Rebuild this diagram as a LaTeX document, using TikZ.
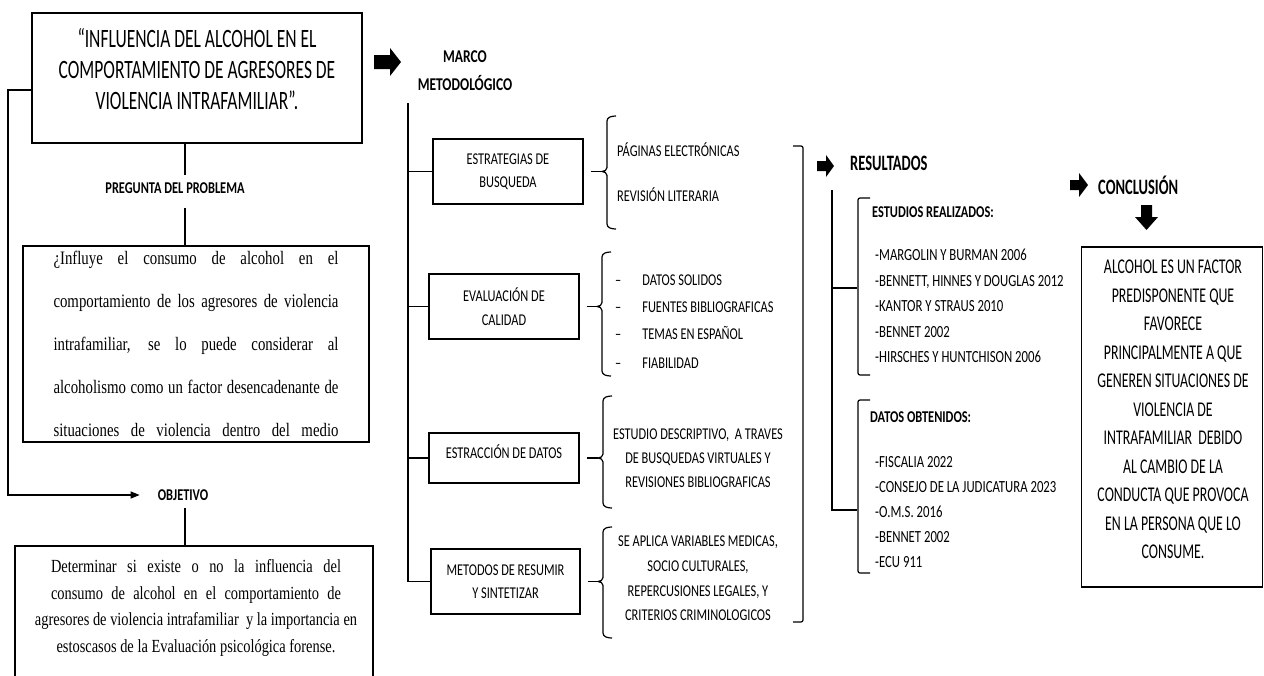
\documentclass[tikz,border=0pt]{standalone}
\usepackage{fontspec}
\setmainfont{Liberation Serif}
\newfontfamily\calfont[FakeStretch=0.75]{Carlito}
\newfontfamily\tallfont[FakeStretch=0.66]{Carlito}
\newfontfamily\serfont[FakeStretch=0.78]{Liberation Serif}
\usetikzlibrary{arrows.meta}
\newcommand\fs[2]{\fontsize{#1}{#2}\selectfont}
\newcommand\lbr[4]{\draw[ln] (#1+9,#2) to[out=180,in=90] (#1,#2+5) -- (#1,#3-4) to[out=-90,in=0] (#1-5,#3) to[out=0,in=90] (#1,#3+4) -- (#1,#4-5) to[out=-90,in=180] (#1+9,#4);}
\tikzset{
  ln/.style={line width=1.2pt},
  boxs/.style={draw, line width=1.4pt, inner sep=0pt},
  captxt/.style={font=\calfont\fs{16.5}{23.5}, align=center, inner sep=0pt},
  itm/.style={font=\calfont\fs{16.5}{20}, anchor=west, inner sep=0pt},
  ritm/.style={font=\calfont\fs{17}{25.5}, anchor=west, align=left, inner sep=0pt},
  head/.style={font=\calfont\bfseries\fs{16.5}{20}, inner sep=0pt},
  bighead/.style={font=\tallfont\bfseries\fs{22}{24}, inner sep=0pt, anchor=west},
}
\begin{document}
\begin{tikzpicture}[x=1pt,y=-1pt]
\useasboundingbox (0,0) rectangle (1264,675);
\clip (0,0) rectangle (1264,675);
\fill[white] (0,0) rectangle (1264,675);

% ---------- left column ----------
\node[boxs, minimum width=330pt, minimum height=130pt] (title) at (197,78) {};
\node[font=\tallfont\fs{26.5}{31}, align=center, inner sep=0pt] (titletxt) at (197,69)
  {“INFLUENCIA DEL ALCOHOL EN EL\\COMPORTAMIENTO DE AGRESORES DE\\VIOLENCIA INTRAFAMILIAR”.};
\coordinate (vx) at (185,0);
\node[head] (preg) at (175,188) {PREGUNTA DEL PROBLEMA};
\node[boxs, minimum width=346pt, minimum height=196pt] (quest) at (196,344)
  {\parbox{285pt}{\serfont\fs{19}{43}\parindent=0pt\parfillskip=0pt
   ¿Influye el consumo de alcohol en el\linebreak
   comportamiento de los agresores de violencia\linebreak
   intrafamiliar, se lo puede considerar al\linebreak
   alcoholismo como un factor desencadenante de\linebreak
   situaciones de violencia dentro del medio\par}};
\draw[ln, shorten >=7pt] (title.south -| vx) -- (preg.north -| vx);
\draw[ln, shorten <=14pt] (preg.south -| vx) -- (quest.north -| vx);

\node[head] (obj) at (183,495) {OBJETIVO};
\node[boxs, minimum width=358pt, minimum height=160pt] (objbox) at (194,626) {};
\node[font=\serfont\fs{18.5}{26.5}, align=center, inner sep=0pt] (objtxt) at (196,608)
  {\makebox[290pt][s]{Determinar si  existe  o  no  la  influencia  del}\\
   \makebox[290pt][s]{consumo  de  alcohol  en  el comportamiento de}\\
   agresores de violencia intrafamiliar \ y la importancia en\\
   estoscasos de la Evaluación psicológica forense.};
\draw[ln, shorten <=7pt] (obj.south -| vx) -- (objbox.north -| vx);
\coordinate (lc) at (8,90);
\draw[ln, -{Triangle[length=9pt,width=7pt]}, shorten >=18pt] (title.west |- lc) -- (lc) |- (obj.west);

% ---------- methodology ----------
\fill (374,55) -- (390,55) -- (390,48) -- (401,62) -- (390,76) -- (390,69) -- (374,69) -- cycle;
\node[font=\calfont\bfseries\fs{18}{28}, align=center, inner sep=0pt] (marco) at (465,71) {MARCO\\METODOLÓGICO};

\node[boxs, captxt, minimum width=150pt, minimum height=65pt] (s1) at (508,171.5) {ESTRATEGIAS DE\\BUSQUEDA};
\node[boxs, captxt, minimum width=150pt, minimum height=65pt] (s2) at (504,306.5) {EVALUACIÓN DE\\CALIDAD};
\node[boxs, captxt, minimum width=150pt, minimum height=50pt, text depth=12pt] (s3) at (504,458) {ESTRACCIÓN DE DATOS};
\node[boxs, captxt, minimum width=149pt, minimum height=65pt] (s4) at (505.5,581.5) {METODOS DE RESUMIR\\Y SINTETIZAR};

\coordinate (mtop) at (408,103);
\draw[ln] (mtop) |- (s4.west);
\foreach \s in {s1,s2,s3} \draw[ln] (mtop |- \s.west) -- (\s.west);

% braces
\lbr{607}{116}{171.5}{229}
\lbr{602}{252}{306.5}{376}
\lbr{603}{396}{458}{508}
\lbr{603}{527}{581.5}{638}
\coordinate (b1) at (602,171.5);
\coordinate (b2) at (597,306.5);
\coordinate (b3) at (598,458);
\coordinate (b4) at (598,581.5);
\draw[ln, shorten <=7pt] (s1.east) -- (b1);
\draw[ln, shorten <=7pt] (s2.east) -- (b2);
\draw[ln, shorten <=7pt] (s3.east |- b3) -- (b3);
\draw[ln, shorten <=7pt] (s4.east) -- (b4);

\node[itm] (p1) at (617,150) {PÁGINAS ELECTRÓNICAS};
\node[itm] (p2) at (617,195) {REVISIÓN LITERARIA};
\node[itm] (c1) at (615,280) {–\hspace{21pt}DATOS SOLIDOS};
\node[itm] (c2) at (615,307) {–\hspace{21pt}FUENTES BIBLIOGRAFICAS};
\node[itm] (c3) at (615,333) {–\hspace{21pt}TEMAS EN ESPAÑOL};
\node[itm] (c4) at (615,363) {–\hspace{21pt}FIABILIDAD};
\node[font=\calfont\fs{16.5}{24}, align=center, inner sep=0pt] (d1) at (698,458)
  {ESTUDIO DESCRIPTIVO, \ A TRAVES\\DE BUSQUEDAS VIRTUALES Y\\REVISIONES BIBLIOGRAFICAS};
\node[font=\calfont\fs{16.5}{24.7}, align=center, inner sep=0pt] (m1) at (698,578.5)
  {SE APLICA VARIABLES MEDICAS,\\SOCIO CULTURALES,\\REPERCUSIONES LEGALES, Y\\CRITERIOS CRIMINOLOGICOS};

\draw[ln, rounded corners=2pt] (793,146) -- (803,146) -- (803,622) -- (793,622);

% ---------- results ----------
\fill (817,161) -- (826,161) -- (826,155) -- (834,166) -- (826,177) -- (826,171) -- (817,171) -- cycle;
\node[bighead] (res) at (850,163) {RESULTADOS};
\draw[ln, rounded corners=2pt] (870,198) -- (858,198) -- (858,375) -- (870,375);
\draw[ln, rounded corners=2pt] (870,400) -- (858,400) -- (858,573) -- (870,573);
\coordinate (rtop) at (832,190);
\coordinate (e1) at (857,288);
\coordinate (e2) at (857,510);
\draw[ln] (rtop) |- (e2);
\draw[ln] (rtop |- e1) -- (e1);
\node[head, anchor=west] (est) at (872,212) {ESTUDIOS REALIZADOS:};
\node[ritm] (estl) at (875,306) {-MARGOLIN Y BURMAN 2006\\-BENNETT, HINNES Y DOUGLAS 2012\\-KANTOR Y STRAUS 2010\\-BENNET 2002\\-HIRSCHES Y HUNTCHISON 2006};
\node[head, anchor=west] (dat) at (870,417) {DATOS OBTENIDOS:};
\node[ritm, font=\calfont\fs{17}{25}] (datl) at (875,512) {-FISCALIA 2022\\-CONSEJO DE LA JUDICATURA 2023\\-O.M.S. 2016\\-BENNET 2002\\-ECU 911};

% ---------- conclusion ----------
\fill (1070,180) -- (1079,180) -- (1079,173) -- (1088,185) -- (1079,197) -- (1079,190) -- (1070,190) -- cycle;
\node[bighead] (con) at (1098,185) {CONCLUSIÓN};
\fill (1141,205) -- (1152,205) -- (1152,217) -- (1158,217) -- (1146.5,230) -- (1135,217) -- (1141,217) -- cycle;
\node[boxs, minimum width=181pt, minimum height=340pt] (conbox) at (1172,417) {};
\node[font=\tallfont\fs{21}{28.5}, align=center, inner sep=0pt] (contxt) at (1173,409.5)
  {ALCOHOL ES UN FACTOR\\PREDISPONENTE QUE\\FAVORECE\\PRINCIPALMENTE A QUE\\GENEREN SITUACIONES DE\\VIOLENCIA DE\\INTRAFAMILIAR \ DEBIDO\\AL CAMBIO DE LA\\CONDUCTA QUE PROVOCA\\EN LA PERSONA QUE LO\\CONSUME.};
\end{tikzpicture}
\end{document}
